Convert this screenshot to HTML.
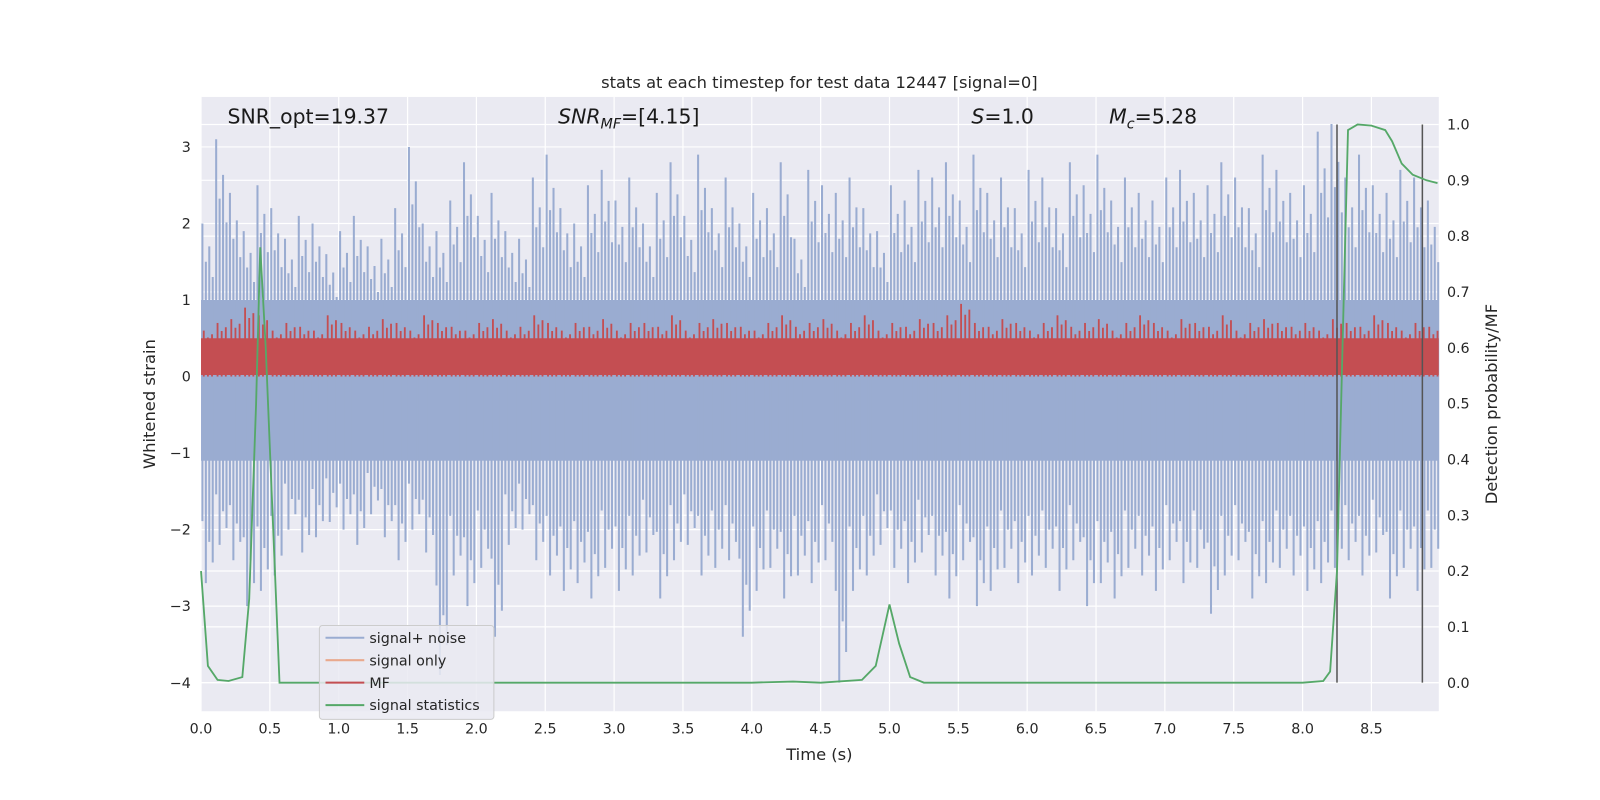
<!DOCTYPE html>
<html><head><meta charset="utf-8"><style>
body{margin:0;background:#fff;}
svg{display:block;font-family:"DejaVu Sans","Liberation Sans",sans-serif;}
</style></head><body>
<svg id="chart" width="1600" height="800" viewBox="0 0 1568 784"></svg>
<script>
const times=[];for(let i=0;i<90;i++)times.push(i*0.1+0.05);
const noiseUpper=[2.0,3.1,2.4,1.9,2.5,2.2,1.8,2.1,2.0,1.6,1.9,2.1,1.7,1.8,2.2,3.0,2.0,1.9,2.3,2.8,2.1,2.4,1.9,1.8,2.6,2.9,2.2,2.0,2.5,2.7,2.3,2.6,2.0,2.4,2.8,2.1,2.9,2.2,2.6,2.0,2.4,2.2,2.8,1.8,2.7,2.5,2.4,2.6,2.2,1.9,2.5,2.3,2.7,2.6,2.8,2.3,2.9,2.4,2.6,2.2,2.7,2.6,2.2,2.8,2.5,2.9,2.3,2.6,2.4,2.3,2.6,2.7,2.4,2.5,2.8,2.6,2.2,2.9,2.7,2.4,2.5,3.2,3.3,2.6,2.9,2.5,2.4,2.7,2.6,2.3];
const noiseLower=[-2.7,-2.2,-2.4,-3.0,-2.8,-2.6,-2.0,-2.3,-2.1,-1.9,-2.0,-2.2,-1.8,-2.1,-2.4,-2.0,-2.3,-3.9,-2.6,-3.0,-2.5,-3.4,-2.2,-2.0,-2.4,-2.6,-2.8,-2.7,-2.9,-2.5,-2.8,-2.6,-2.3,-2.9,-2.4,-2.2,-2.6,-2.5,-2.4,-3.4,-2.8,-2.5,-2.9,-2.6,-2.7,-2.4,-4.0,-2.8,-2.6,-2.2,-2.5,-2.7,-2.3,-2.6,-2.9,-2.4,-3.0,-2.8,-2.5,-2.7,-2.6,-2.5,-2.8,-2.4,-3.0,-2.7,-2.9,-2.5,-2.6,-2.8,-2.4,-2.7,-2.5,-3.1,-2.6,-2.4,-2.9,-2.7,-2.5,-2.6,-2.8,-2.7,-2.5,-2.4,-2.6,-2.3,-2.9,-2.5,-2.8,-2.5];
const mfUpper=[0.6,0.7,0.75,0.9,0.8,0.6,0.7,0.65,0.6,0.8,0.7,0.6,0.65,0.75,0.7,0.6,0.8,0.7,0.65,0.6,0.7,0.75,0.6,0.65,0.8,0.7,0.6,0.7,0.65,0.75,0.6,0.7,0.7,0.65,0.8,0.6,0.7,0.75,0.7,0.65,0.6,0.7,0.8,0.65,0.7,0.75,0.6,0.7,0.8,0.6,0.7,0.65,0.75,0.7,0.8,0.95,0.7,0.65,0.75,0.7,0.6,0.7,0.8,0.65,0.7,0.75,0.6,0.7,0.8,0.7,0.6,0.75,0.7,0.65,0.8,0.6,0.7,0.75,0.7,0.65,0.7,0.6,0.75,0.7,0.65,0.8,0.7,0.6,0.7,0.65];
const statT=[0,0.05,0.12,0.2,0.3,0.35,0.4,0.43,0.47,0.52,0.57,0.6,1.0,2.0,3.0,4.0,4.3,4.5,4.8,4.9,5.0,5.07,5.15,5.25,5.5,6.0,7.0,8.0,8.15,8.2,8.25,8.3,8.33,8.4,8.5,8.6,8.65,8.72,8.8,8.9,8.98];
const statP=[0.2,0.03,0.005,0.003,0.01,0.15,0.5,0.78,0.6,0.3,0.0,0.0,0.0,0.0,0.0,0.0,0.002,0.0,0.005,0.03,0.14,0.07,0.01,0.0,0.0,0.0,0.0,0.0,0.003,0.02,0.2,0.7,0.99,1.0,0.998,0.99,0.97,0.93,0.91,0.9,0.895];
const xTicks=[0,0.5,1,1.5,2,2.5,3,3.5,4,4.5,5,5.5,6,6.5,7,7.5,8,8.5];
const yTicks=[-4,-3,-2,-1,0,1,2,3];
const rTicks=[0,0.1,0.2,0.3,0.4,0.5,0.6,0.7,0.8,0.9,1.0];
const vLines=[8.25,8.87];

const L=197,R=1410,T=95,B=697;
const X=t=>L+t*134.94, Y=v=>369-v*75, YR=p=>669-p*547;
const svg=document.getElementById('chart');const NS='http://www.w3.org/2000/svg';
function mk(tag,at,parent){const e=document.createElementNS(NS,tag);for(const k in at)e.setAttribute(k,at[k]);(parent||svg).appendChild(e);return e;}
let e=mk('rect',{x:L,y:T,width:R-L,height:B-T,fill:'#eaeaf2'});

const grid=mk('g',{stroke:'#fff','stroke-width':1.2});

xTicks.forEach(t=>mk('line',{x1:X(t),x2:X(t),y1:T,y2:B},grid));
yTicks.forEach(v=>mk('line',{x1:L,x2:R,y1:Y(v),y2:Y(v)},grid));
rTicks.forEach(p=>mk('line',{x1:L,x2:R,y1:YR(p),y2:YR(p)},grid));
const ng=mk('g',{});
mk('rect',{x:L,y:Y(1.0),width:R-L,height:Y(-1.1)-Y(1.0),fill:'#9aacd1'},ng);
times.forEach((t,i)=>{for(let k=0;k<4;k++){const tt=t-0.04+k*0.025;const f=[1,0.75,0.85,0.65][k];const g=[0.7,1,0.8,0.9][k];
mk('line',{x1:X(tt),x2:X(tt),y1:Y(noiseUpper[i]*f),y2:Y(noiseLower[i]*g),stroke:'#9aacd1','stroke-width':2},ng);}});
e=mk('line',{x1:L,x2:R,y1:Y(0.03),y2:Y(0.03),stroke:'#e9a98d','stroke-width':1.5});

const mg=mk('g',{});
mk('rect',{x:L,y:Y(0.5),width:R-L,height:Y(0.02)-Y(0.5),fill:'#c44e52'},mg);
times.forEach((t,i)=>{for(let k=0;k<3;k++){const tt=t-0.03+k*0.03;const f=[1,0.85,0.92][k];
mk('line',{x1:X(tt),x2:X(tt),y1:Y(mfUpper[i]*f),y2:Y(0),stroke:'#c44e52','stroke-width':1.8},mg);}});
vLines.forEach(t=>{const l=mk('line',{x1:X(t),x2:X(t),y1:YR(1),y2:YR(0),stroke:'#555','stroke-width':1.5});
});
e=mk('polyline',{points:statT.map((t,i)=>X(t)+','+YR(statP[i])).join(' '),fill:'none',stroke:'#55a868','stroke-width':1.8});

const ax=mk('g',{'font-size':14,fill:'#262626'});
xTicks.forEach(t=>{const s=mk('text',{x:X(t),y:B+22,'text-anchor':'middle'},ax);s.textContent=t.toFixed(1);});
yTicks.forEach(v=>{const s=mk('text',{x:L-10,y:Y(v)+5,'text-anchor':'end'},ax);s.textContent=v<0?'\u2212'+(-v):v;});
rTicks.forEach(p=>{const s=mk('text',{x:R+8,y:YR(p)+5},ax);s.textContent=p.toFixed(1);});
let s=mk('text',{x:803,y:745,'text-anchor':'middle','font-size':16},ax);s.textContent='Time (s)';
s=mk('text',{x:0,y:0,'text-anchor':'middle','font-size':16,transform:'translate(152,396) rotate(-90)'},ax);s.textContent='Whitened strain';
s=mk('text',{x:0,y:0,'text-anchor':'middle','font-size':16,transform:'translate(1467,396) rotate(-90)'},ax);s.textContent='Detection probability/MF';
s=mk('text',{x:803,y:86,'text-anchor':'middle','font-size':16},ax);s.textContent='stats at each timestep for test data 12447 [signal=0]';

const an=mk('g',{'font-size':20,fill:'#1a1a1a'});
s=mk('text',{x:223,y:121},an);s.textContent='SNR_opt=19.37';
s=mk('text',{x:547,y:121},an);s.innerHTML='<tspan font-style="italic">SNR</tspan><tspan font-style="italic" font-size="14" dy="5">MF</tspan><tspan dy="-5">=[4.15]</tspan>';
s=mk('text',{x:952,y:121},an);s.innerHTML='<tspan font-style="italic">S</tspan>=1.0';
s=mk('text',{x:1087,y:121},an);s.innerHTML='<tspan font-style="italic">M</tspan><tspan font-style="italic" font-size="14" dy="5">c</tspan><tspan dy="-5">=5.28</tspan>';
const lg=mk('g',{});
mk('rect',{x:313,y:613,width:171,height:92,rx:3,fill:'#eaeaf2','fill-opacity':0.85,stroke:'#ccc'},lg);
[['signal+ noise','#9aacd1'],['signal only','#e9a98d'],['MF','#c44e52'],['signal statistics','#55a868']].forEach((d,i)=>{
const y=625+i*22;mk('line',{x1:319,x2:357,y1:y,y2:y,stroke:d[1],'stroke-width':2},lg);
const t=mk('text',{x:362,y:y+5,'font-size':14,fill:'#262626'},lg);t.textContent=d[0];
});
</script>
</body></html>
